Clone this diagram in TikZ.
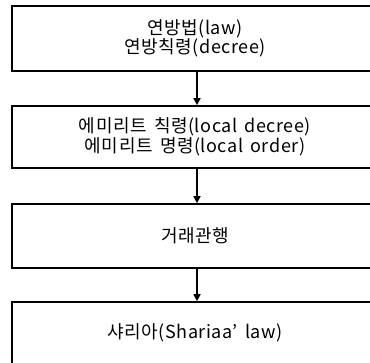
\documentclass[tikz,border=0pt]{standalone}
\usepackage{fontspec}
\setmainfont[LetterSpace=3,WordSpace=1.6]{Noto Sans CJK KR}
\usepackage{tikz}
\usetikzlibrary{arrows.meta}

\tikzset{
  lawbox/.style={draw, line width=1.6pt, minimum width=366pt, inner sep=0pt, align=center, font=\fontsize{18}{19.5}\selectfont},
  down/.style={-{Triangle[length=7pt,width=7pt]}, line width=1.6pt}
}

\begin{document}
\begin{tikzpicture}[x=1pt,y=1pt,yscale=-1,xscale=1]
        \clip (0,0) rectangle (370,363); %diagram is 370 wide, 363 high

        %Shape: Rectangle [id:federal]
        \node [lawbox, minimum height=65pt] (federal) at (195,38.5) {연방법(law)\\연방칙령(decree)};
        %Shape: Rectangle [id:emirate]
        \node [lawbox, minimum height=62pt] (emirate) at (195,137) {에미리트 칙령(local decree)\\에미리트 명령(local order)};
        %Shape: Rectangle [id:custom]
        \node [lawbox, minimum height=64pt] (custom) at (195,236) {거래관행};
        %Shape: Rectangle [id:sharia]
        \node [lawbox, minimum height=62pt] (sharia) at (195,333) {샤리아(Shariaa' law)};

        % Arrows
        \draw [down] ([xshift=2pt]federal.south) -- ([xshift=2pt]emirate.north);
        \draw [down] ([xshift=2pt]emirate.south) -- ([xshift=2pt]custom.north);
        \draw [down] ([xshift=2pt]custom.south) -- ([xshift=2pt]sharia.north);

\end{tikzpicture}
\end{document}
